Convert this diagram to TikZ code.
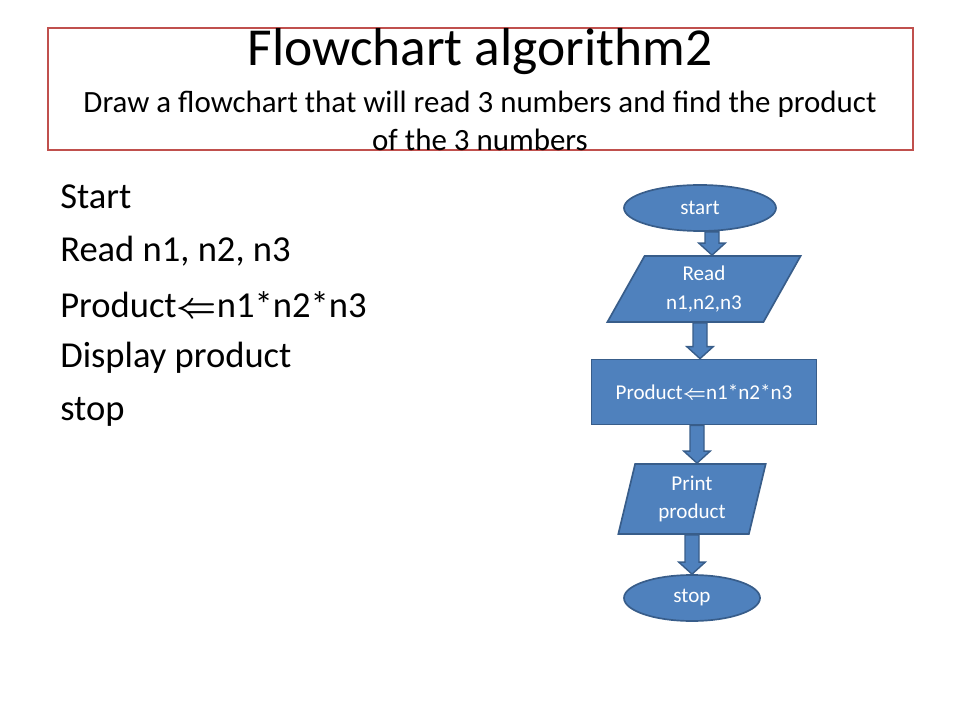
\documentclass[tikz,border=0pt]{standalone}
\usepackage{amsmath}
\usepackage{bm}
\usepackage{fontspec}
\setmainfont{Carlito}
\usetikzlibrary{shapes.geometric,calc}
\definecolor{boxblue}{HTML}{4F81BD}
\definecolor{boxedge}{HTML}{385D8A}
\definecolor{titlered}{HTML}{C0504D}
\tikzset{
  flowbox/.style={draw=boxedge,fill=boxblue,line width=1.2pt,text=white,font=\fontsize{15}{20}\selectfont,align=center,inner sep=1pt},
  terminal/.style={flowbox,ellipse},
  ioshape/.style={flowbox,trapezium,trapezium stretches=true,trapezium left angle=#1,trapezium right angle=180-#1},
  process/.style={flowbox,rectangle},
  arrowbody/.style={draw=boxedge,fill=boxblue,line width=1pt}
}
\newcommand\flowarrow[2]{%
  \draw[arrowbody] let \p1=(#1), \p2=(#2) in
    (\x1-0.175cm,\y1) -- (\x1+0.175cm,\y1) -- (\x1+0.175cm,\y2+0.3cm) -- (\x1+0.33cm,\y2+0.3cm)
    -- (\x1,\y2) -- (\x1-0.33cm,\y2+0.3cm) -- (\x1-0.175cm,\y2+0.3cm) -- cycle;}
\begin{document}
\begin{tikzpicture}[x=0.025cm,y=-0.025cm]
\useasboundingbox (0,0) rectangle (960,720);
% title
\draw[titlered,line width=1.5pt] (48,28) rectangle (913,150);
\node[font=\fontsize{38}{42}\selectfont] (title) at (480,52) {Flowchart algorithm2};
\node[font=\fontsize{22}{26.5}\selectfont,align=center] (subtitle) at (480,121)
  {Draw a flowchart that will read 3 numbers and find the product\\of the 3 numbers};
% algorithm text
\begin{scope}[every node/.style={anchor=west,font=\fontsize{26}{30}\selectfont,inner sep=0pt}]
\node (l1) at (60,197) {Start};
\node (l2) at (60,251) {Read n1, n2, n3};
\node (l3) at (60,305) {Product$\bm{\Leftarrow}$n1*n2*n3};
\node (l4) at (60,358) {Display product};
\node (l5) at (60,412) {stop};
\end{scope}
% flowchart
\node[terminal,minimum width=152*0.025cm,minimum height=46*0.025cm] (start) at (700,208) {start};
\node[ioshape=63,minimum width=195*0.025cm,minimum height=66*0.025cm] (read) at (704,289) {Read\\n1,n2,n3};
\node[process,minimum width=225*0.025cm,minimum height=65*0.025cm] (product) at (704,392) {Product$\bm{\Leftarrow}$n1*n2*n3};
\node[ioshape=78,minimum width=148*0.025cm,minimum height=70*0.025cm] (print) at (692,499) {Print\\product};
\node[terminal,minimum width=136*0.025cm,minimum height=46*0.025cm] (stop) at (692,598) {stop};
\flowarrow{$(start.south)+(12,0)$}{$(read.north)+(8,0)$}
\flowarrow{$(read.south)+(-4,0)$}{product.north}
\flowarrow{$(product.south)+(-7,0)$}{print.north}
\flowarrow{print.south}{stop.north}
\end{tikzpicture}
\end{document}
